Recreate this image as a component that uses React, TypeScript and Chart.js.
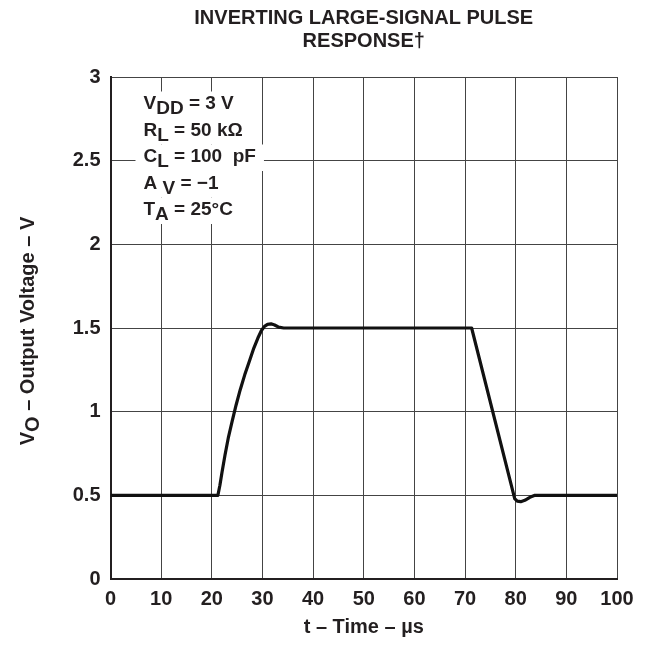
import React, { useEffect, useRef } from "react";
import { Chart, registerables } from "chart.js";

Chart.register(...registerables);

const timeUs = [0, 21.2, 21.6, 22.0, 22.6, 23.3, 24.0, 24.8, 25.6, 26.5, 27.4, 28.3, 29.1, 29.8, 30.4, 31.0, 31.7, 32.4, 33.2, 34.2, 71.3, 79.8, 80.3, 81.0, 81.8, 82.8, 83.8, 100];
const voltage = [0.5, 0.5, 0.56, 0.635, 0.74, 0.85, 0.94, 1.04, 1.13, 1.22, 1.3, 1.38, 1.44, 1.485, 1.51, 1.522, 1.525, 1.518, 1.505, 1.5, 1.5, 0.48, 0.465, 0.462, 0.47, 0.488, 0.5, 0.5];
const xTicks = [0, 10, 20, 30, 40, 50, 60, 70, 80, 90, 100];
const yTicks = [0, 0.5, 1, 1.5, 2, 2.5, 3];
const titleLines = ["INVERTING LARGE-SIGNAL PULSE", "RESPONSE\u2020"];
const xTitle = "t \u2013 Time \u2013 \u00b5s";
const yTitleParts = [["V", false], ["O", true], [" \u2013 Output Voltage \u2013 V", false]];
const conditions = [
  [["V", false], ["DD", true], [" = 3 V", false]],
  [["R", false], ["L", true], [" = 50 k\u03a9", false]],
  [["C", false], ["L", true], [" = 100  pF", false]],
  [["A", false], [" V", true], [" = \u22121", false]],
  [["T", false], ["A", true], [" = 25\u00b0C", false]],
];

const FONT = "Liberation Sans, Arial, Helvetica, sans-serif";
const INK = "#231f20";

const textPlugin = {
  id: "textPlugin",
  afterDraw(chart: any) {
    const { ctx, chartArea } = chart;
    const cx = (chartArea.left + chartArea.right) / 2;
    ctx.save();
    ctx.fillStyle = INK;
    ctx.font = `bold 20px ${FONT}`;
    ctx.textAlign = "center";
    ctx.textBaseline = "alphabetic";
    ctx.fillText(titleLines[0], cx, 16);
    ctx.fillText(titleLines[1], cx, 39);
    ctx.fillText(xTitle, cx, 625);

    // y title
    ctx.save();
    ctx.translate(20, (chartArea.top + chartArea.bottom) / 2 + 3);
    ctx.rotate(-Math.PI / 2);
    ctx.textAlign = "left";
    ctx.textBaseline = "middle";
    let total = 0;
    for (const [s] of yTitleParts as any) total += ctx.measureText(s).width;
    let x = -total / 2;
    for (const [s, sub] of yTitleParts as any) {
      ctx.fillText(s, x, sub ? 5 : 0);
      x += ctx.measureText(s).width;
    }
    ctx.restore();

    // conditions box
    ctx.font = `bold 19px ${FONT}`;
    ctx.textAlign = "left";
    ctx.textBaseline = "alphabetic";
    const left = chartArea.left + 33;
    const lineH = 26.5;
    conditions.forEach((parts: any, i: number) => {
      const base = chartArea.top + 32 + i * lineH;
      let w = 0;
      for (const [s] of parts) w += ctx.measureText(s).width;
      ctx.fillStyle = "#ffffff";
      ctx.fillRect(left - 8, base - 17.5, w + 16, lineH);
      ctx.fillStyle = INK;
      let xx = left;
      for (const [s, sub] of parts) {
        ctx.fillText(s, xx, sub ? base + 5 : base);
        xx += ctx.measureText(s).width;
      }
    });
    ctx.restore();
  },
};

export default function App() {
  const ref = useRef<HTMLCanvasElement>(null);
  useEffect(() => {
    const data = timeUs.map((t, i) => ({ x: t, y: voltage[i] }));
    const chart = new Chart(ref.current as HTMLCanvasElement, {
      type: "line",
      data: {
        datasets: [
          {
            data,
            borderColor: "#111",
            borderWidth: 3.2,
            pointRadius: 0,
            tension: 0,
            borderJoinStyle: "round",
            fill: false,
          },
        ],
      },
      options: {
        responsive: false,
        animation: false,
        devicePixelRatio: 1,
        layout: { padding: { top: 69, right: 27, bottom: 0, left: 0 } },
        plugins: { legend: { display: false }, tooltip: { enabled: false }, title: { display: false } },
        scales: {
          x: {
            type: "linear",
            min: 0,
            max: 100,
            afterFit: (s: any) => { s.height = 61; },
            afterBuildTicks: (s: any) => { s.ticks = xTicks.map((v) => ({ value: v })); },
            grid: { color: "#444", lineWidth: 1, drawTicks: false },
            border: { color: INK, width: 2 },
            ticks: { color: INK, padding: 8, font: { family: FONT, size: 20, weight: "bold" }, maxRotation: 0, autoSkip: false, callback: (v: any) => String(v) },
          },
          y: {
            type: "linear",
            min: 0,
            max: 3,
            afterFit: (s: any) => { s.width = 102.5; },
            afterBuildTicks: (s: any) => { s.ticks = yTicks.map((v) => ({ value: v })); },
            grid: { color: "#444", lineWidth: 1, drawTicks: false },
            border: { color: INK, width: 2 },
            ticks: { color: INK, padding: 10, font: { family: FONT, size: 20, weight: "bold" }, autoSkip: false, callback: (v: any) => String(v) },
          },
        },
      },
      plugins: [textPlugin],
    } as any);
    return () => chart.destroy();
  }, []);
  return <canvas ref={ref} width={636} height={632} style={{ display: "block" }} />;
}
